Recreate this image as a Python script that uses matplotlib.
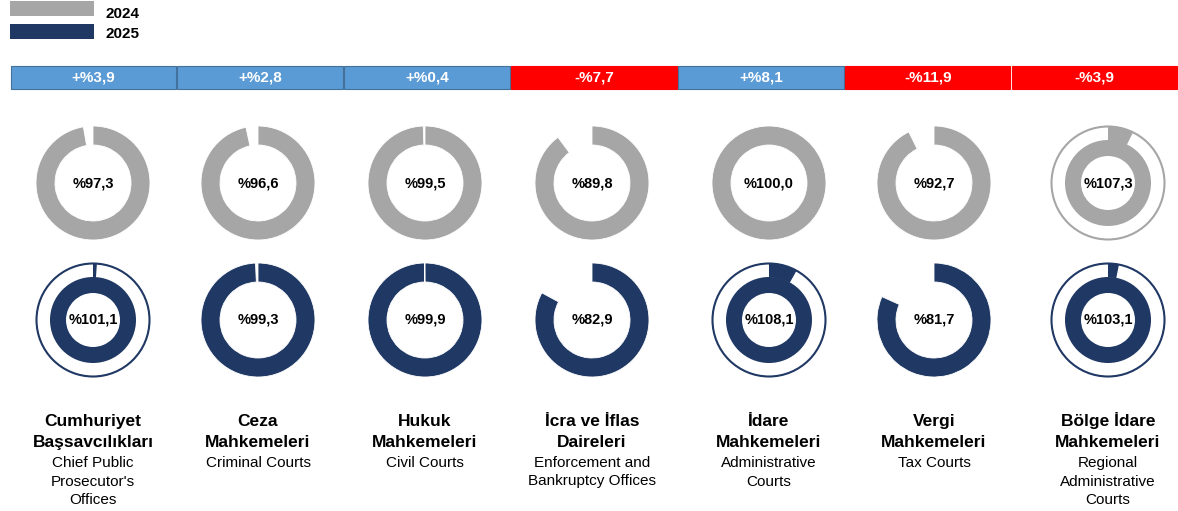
import matplotlib
matplotlib.use("Agg")
import matplotlib.pyplot as plt
from matplotlib.patches import Wedge, Circle, Rectangle

plt.rcParams['font.family'] = ['Liberation Sans', 'DejaVu Sans']

# ---- data ----
names_tr = ["Cumhuriyet\nBaşsavcılıkları", "Ceza\nMahkemeleri", "Hukuk\nMahkemeleri",
            "İcra ve İflas\nDaireleri", "İdare\nMahkemeleri", "Vergi\nMahkemeleri",
            "Bölge İdare\nMahkemeleri"]
names_en = ["Chief Public\nProsecutor's\nOffices", "Criminal Courts", "Civil Courts",
            "Enforcement and\nBankruptcy Offices", "Administrative\nCourts", "Tax Courts",
            "Regional\nAdministrative\nCourts"]
rate_2024 = [97.3, 96.6, 99.5, 89.8, 100.0, 92.7, 107.3]
rate_2025 = [101.1, 99.3, 99.9, 82.9, 108.1, 81.7, 103.1]
change = [3.9, 2.8, 0.4, -7.7, 8.1, -11.9, -3.9]
years = ["2024", "2025"]

GRAY = "#A6A6A6"
NAVY = "#1F3864"
BLUE = "#5B9BD5"
RED = "#FF0000"

# layout (pixels)
W, H = 1178, 511
col_x = [93, 258, 425, 592, 769, 934, 1108]
row_y = [183, 320]
box_left, box_w = 10, 166.9


def fmt(v):
    return "%" + f"{v:.1f}".replace(".", ",")


def donut(ax, cx, cy, v, color):
    if v <= 100:
        ax.add_patch(Wedge((cx, cy), 57, -90, -90 + 3.6 * v, width=19,
                           facecolor=color, edgecolor="white", lw=0.6))
    else:
        ax.add_patch(Circle((cx, cy), 56.5, fill=False, edgecolor=color, lw=1.5))
        ax.add_patch(Wedge((cx, cy), 43, 0, 360, width=16, facecolor=color, lw=0))
        ax.add_patch(Wedge((cx, cy), 56.5, -90, -90 + 3.6 * (v - 100), width=14,
                           facecolor=color, lw=0))
    ax.text(cx, cy, fmt(v), ha="center", va="center", fontsize=10.5,
            fontweight="bold", color="black")


fig = plt.figure(figsize=(W / 100, H / 100), dpi=100)
ax = fig.add_axes([0, 0, 1, 1])
ax.set_xlim(0, W)
ax.set_ylim(H, 0)
ax.set_aspect("equal")
ax.axis("off")

# legend
for i, (yr, c) in enumerate(zip(years, [GRAY, NAVY])):
    ax.add_patch(Rectangle((10, 1 + i * 23), 84, 15.5, facecolor=c, lw=0))
    ax.text(106, 18.5 + i * 20, yr, ha="left", va="baseline", fontsize=11,
            fontweight="bold")

# change boxes
for i, d in enumerate(change):
    fc = BLUE if d >= 0 else RED
    ec = "#41719C" if d >= 0 else RED
    x0 = box_left + i * box_w
    ax.add_patch(Rectangle((x0 + 0.5, 66), box_w - 1.5, 23, facecolor=fc,
                           edgecolor=ec, lw=0.8))
    sign = "+" if d >= 0 else "-"
    ax.text(x0 + box_w / 2, 77.5, sign + fmt(abs(d)), ha="center", va="center",
            fontsize=11, fontweight="bold", color="white")

# donuts and labels
for i in range(len(names_tr)):
    donut(ax, col_x[i], row_y[0], rate_2024[i], GRAY)
    donut(ax, col_x[i], row_y[1], rate_2025[i], NAVY)
    for j, line in enumerate(names_tr[i].split("\n")):
        ax.text(col_x[i], 426 + j * 21, line, ha="center", va="baseline",
                fontsize=12.5, fontweight="bold")
    for j, line in enumerate(names_en[i].split("\n")):
        ax.text(col_x[i], 467 + j * 18.5, line, ha="center", va="baseline",
                fontsize=11)

fig.savefig("out.png", dpi=100)
